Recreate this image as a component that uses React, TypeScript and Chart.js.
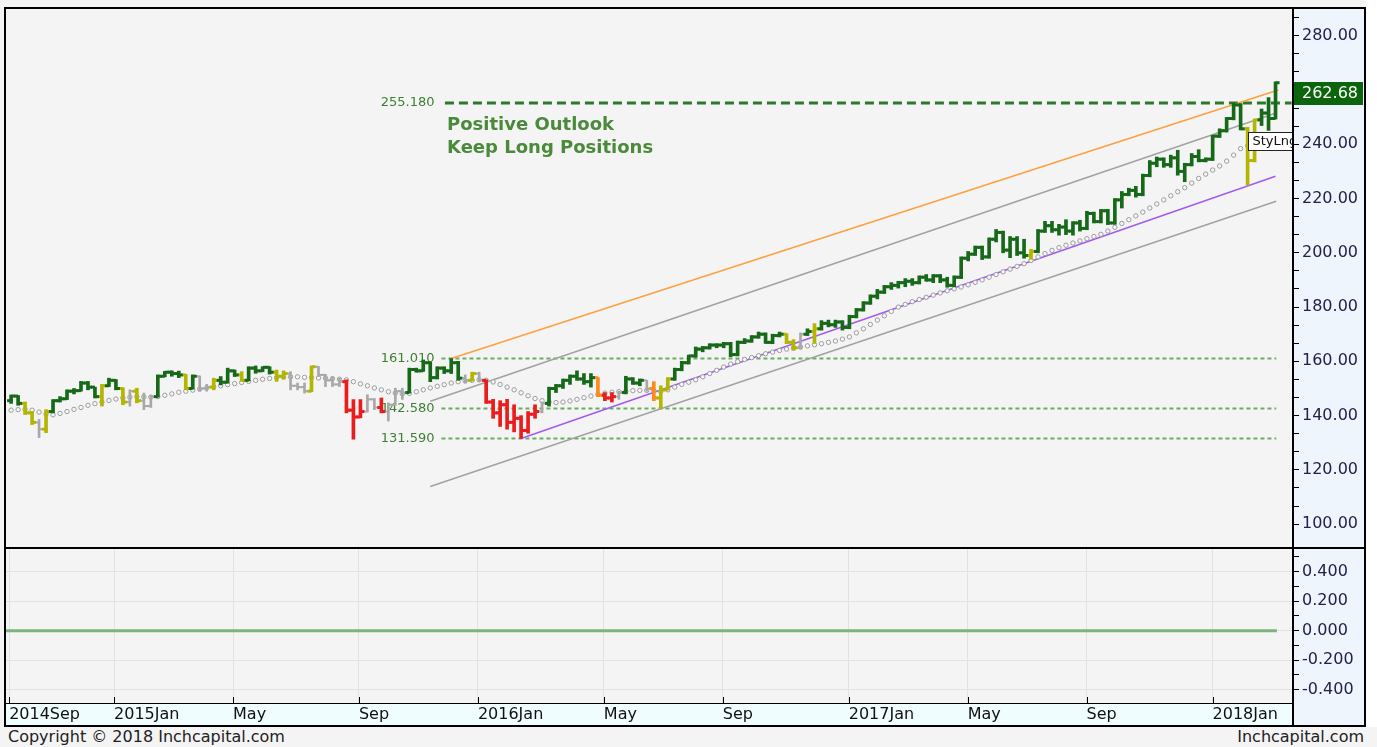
import React, { useEffect, useRef } from 'react';
import { Chart, registerables } from 'chart.js';

Chart.register(...registerables);

const FONT = 'DejaVu Sans';

// ---- weekly OHLC (week index 0 = week of 2014-09-15) ----
const weekOpen = [
  145.5, 147.2, 144.5, 141, 137.5, 135, 141.5, 145.5, 146.2, 149,
  149.2, 152, 150.5, 147, 151, 153, 150, 145, 149, 145.5,
  143.5, 147, 154.5, 156, 155.5, 155, 150, 154.5, 150, 150.5,
  153, 152.3, 156.5, 155, 153, 157.5, 156.5, 157.8, 156, 154.5,
  155.5, 151, 150.5, 149, 158, 155, 153, 151.5, 152.5, 142,
  139.5, 141.5, 146, 143, 141.5, 144, 149, 148.5, 157, 156.5,
  159.5, 154, 157.5, 156.5, 159.5, 153.8, 153, 155.5, 153, 145,
  141, 144, 137.5, 139, 134.5, 140.5, 141.5, 144.5, 150, 151,
  153, 154.5, 153.5, 152.5, 154, 147.5, 146.5, 147, 148.5, 153.5,
  152, 153, 150, 146.5, 149.5, 153.5, 157, 159.5, 162, 164.5,
  165, 166, 166, 166.5, 162.5, 167, 167.5, 169, 170, 167,
  169.5, 170, 167, 165, 170, 171, 172, 174, 173.5, 174.5,
  172.5, 176.5, 179, 181.5, 184, 185.5, 187.5, 188, 189, 189.5,
  189, 191, 190, 191.5, 190, 188, 191, 198, 199.5, 202,
  198.5, 205, 207.5, 201, 205, 200, 199, 200.5, 208, 210,
  208.5, 209.5, 208, 211, 209, 214.5, 211.5, 215.5, 211, 219.5,
  221.5, 223, 221.5, 228.5, 233, 234.5, 232.5, 235, 230, 232.5,
  235.5, 234, 234.5, 243, 245, 249.5, 254.5, 245.7, 234, 249,
  251.5, 249.5,
];
const weekHigh = [
  147.6, 147.4, 145, 141.5, 138.6, 142.2, 145.9, 147, 149.5, 150,
  152.6, 152.6, 150.5, 151.5, 153.8, 153.3, 150.3, 149.5, 150.1, 148.3,
  147.5, 155, 156.3, 156.5, 156.4, 155.2, 155, 154.6, 151.5, 153.8,
  154.4, 157.5, 156.8, 156.2, 158, 158.3, 158, 158, 156.8, 156.5,
  156.2, 152, 152, 158.3, 158.1, 155.2, 154.4, 153.8, 153.2, 145.9,
  145.9, 147.7, 146.3, 146.5, 144.7, 150.1, 150.1, 157.5, 157.5, 160.5,
  159.8, 158, 158, 161.01, 160, 155, 156, 156, 153.2, 146,
  145.5, 146, 144, 140, 141.5, 144, 145, 150.5, 151.5, 153.5,
  155, 156.5, 155.5, 155.5, 154, 148.5, 148.5, 149, 154.5, 154,
  153.5, 153, 152.5, 151, 154, 157.5, 160, 162.3, 165.3, 165.5,
  166.5, 166.5, 167, 167, 167.5, 168.4, 169.5, 170.8, 170.5, 170,
  170.8, 170.2, 168, 170.5, 172, 173.9, 175, 175.2, 175.2, 175,
  177, 179.5, 182, 184.5, 186.5, 188, 189, 189.5, 190.5, 190.5,
  191.5, 192, 192, 192, 191, 191.5, 198.5, 200.5, 202.5, 202.5,
  205.5, 208.6, 208, 206, 206, 205, 201.3, 208.6, 211.6, 211.6,
  210.5, 212.2, 211.5, 212, 215.3, 215, 216, 216, 220, 222.6,
  223.8, 224.5, 229, 234, 235.3, 235, 236, 237.8, 233, 236.6,
  238, 235, 243.3, 245.7, 249.9, 255.18, 255, 246.3, 249.3, 253,
  257.2, 263,
];
const weekLow = [
  144.5, 143.8, 140.4, 136.7, 131.9, 133.7, 141, 145, 145.9, 148,
  149, 149.5, 146.5, 143.5, 150.7, 149.5, 144, 143.5, 144.7, 142.2,
  143, 146.8, 154.3, 154.5, 154, 149.5, 149.8, 149, 149, 149.5,
  151.3, 152, 154.4, 152.6, 152.8, 155.6, 156.2, 155.3, 152.6, 153.5,
  149.5, 149.5, 148.3, 148.8, 154.4, 150.7, 150.7, 150.7, 141, 131.3,
  139.2, 141.3, 142.2, 141, 138, 143.8, 146, 148.3, 156, 156.3,
  152.5, 153.5, 155.5, 155.5, 153, 152, 152.8, 152.5, 144.5, 139,
  136, 135, 134, 131.59, 133.5, 139, 141, 143.5, 148.5, 150,
  151.5, 153, 151.5, 150.5, 147, 145.5, 145, 146, 148, 151.5,
  151, 149, 145.5, 142.58, 149.5, 153, 156.5, 159, 161.5, 163.5,
  164.5, 165, 165, 161.7, 162, 166.5, 167, 168.5, 166.6, 166.5,
  169, 166.5, 164.1, 164.5, 169.5, 166.6, 171.5, 172.7, 172.5, 171.5,
  172, 176, 178.5, 181, 183, 185, 186.5, 187, 187.5, 188,
  188.5, 189.5, 189, 189, 187.3, 187.5, 190.5, 197, 199, 197.5,
  198, 204, 200, 198.2, 199, 198, 197.6, 200, 207.5, 207.5,
  206.5, 206.7, 206.5, 208, 208.5, 211, 211, 210.4, 210.5, 216.5,
  221, 220.5, 221, 228, 231.7, 231.5, 231.5, 228.6, 226.2, 232,
  233.5, 233.5, 234, 242.5, 244.5, 249, 245.3, 225, 233.5, 246.9,
  245.1, 249.3,
];
const weekClose = [
  147.2, 144.5, 141, 137.5, 135, 141.5, 145.5, 146.2, 149, 149.2,
  152, 150.5, 147, 151, 153, 150, 145, 149, 145.5, 143.5,
  147, 154.5, 156, 155.5, 155, 150, 154.5, 150, 150.5, 153,
  152.3, 156.5, 155, 153, 157.5, 156.5, 157.8, 156, 154.5, 155.5,
  151, 150.5, 149, 158, 155, 153, 151.5, 152.5, 142, 139.5,
  141.5, 146, 143, 141.5, 144, 149, 148.5, 157, 156.5, 159.5,
  154, 157.5, 156.5, 159.5, 153.8, 153, 155.5, 153, 145, 141,
  144, 137.5, 139, 134.5, 140.5, 141.5, 144.5, 150, 151, 153,
  154.5, 153.5, 152.5, 154, 147.5, 146.5, 147, 148.5, 153.5, 152,
  153, 150, 146.5, 149.5, 153.5, 157, 159.5, 162, 164.5, 165,
  166, 166, 166.5, 162.5, 167, 167.5, 169, 170, 167, 169.5,
  170, 167, 165, 170, 171, 172, 174, 173.5, 174.5, 172.5,
  176.5, 179, 181.5, 184, 185.5, 187.5, 188, 189, 189.5, 189,
  191, 190, 191.5, 190, 188, 191, 198, 199.5, 202, 198.5,
  205, 207.5, 201, 205, 200, 199, 200.5, 208, 210, 208.5,
  209.5, 208, 211, 209, 214.5, 211.5, 215.5, 211, 219.5, 221.5,
  223, 221.5, 228.5, 233, 234.5, 232.5, 235, 230, 232.5, 235.5,
  234, 234.5, 243, 245, 249.5, 254.5, 245.7, 234, 249, 251.5,
  249.5, 262.68,
];
// g = strong up, y = weakening, n = neutral, r = down, o = recovering
const weekTone = (
  'ggyynygggg' + 'gggyggynyn' + 'nggggygnny' + 'gggyggggyy' + 'nnnynnnnrr' +
  'rnnrnnnggg' + 'gggggnynrr' + 'rrrrrrnggg' + 'ggggorrngg' + 'gnoyyggggg' +
  'gggggggggg' + 'gyyngygggg' + 'gggggggggg' + 'gggggggggg' + 'ggggggyggg' +
  'gggggggggg' + 'gggggggggg' + 'gggggggyyg' + 'gg'
).split('');

// trailing stop dots
const trailDots = [
  142, 142.2, 142.3, 142, 141.3, 140.6, 140.3, 140.8, 141.5, 142.3,
  143, 143.8, 144.4, 145, 145.6, 146.1, 146.5, 146.8, 147, 146.9,
  146.8, 147, 147.5, 148, 148.6, 149, 149.4, 149.8, 150.2, 150.6,
  151, 151.4, 151.8, 152.2, 152.6, 153, 153.4, 153.7, 154, 154.2,
  154.3, 154.3, 154.1, 154, 153.9, 153.8, 153.6, 153.4, 153.2, 152.5,
  151.7, 151, 150.2, 149.5, 148.8, 148.3, 148, 148.2, 148.8, 149.5,
  150.2, 150.8, 151.4, 152, 152.5, 152.8, 153, 153.2, 153, 152.4,
  151.5, 150.5, 149.5, 148.4, 147.3, 146.3, 145.5, 145, 144.8, 145,
  145.4, 146, 146.6, 147.2, 147.8, 148.3, 148.6, 148.8, 149, 149.2,
  149.3, 149.3, 149.2, 148.9, 149.5, 150.5, 151.5, 152.3, 153.2, 154.3,
  155.5, 156.7, 157.9, 159, 159.9, 160.7, 161.4, 162.1, 162.8, 163.4,
  164, 164.5, 164.9, 165.3, 165.7, 166.1, 166.5, 167, 167.5, 168.2,
  169, 170.5, 172, 173.6, 175.2, 176.8, 178.4, 180, 181, 182,
  182.8, 183.6, 184.4, 185.2, 186, 186.7, 187.4, 188.2, 189.1, 190,
  191, 192, 193, 194, 195, 196, 197.2, 198.5, 199.7, 200.9,
  201.9, 202.8, 203.6, 204.4, 205.2, 206, 206.8, 208, 209.4, 210.8,
  212.2, 213.6, 215, 216.5, 218, 219.5, 221, 222.5, 224, 225.7,
  227.4, 229, 230.5, 232, 233.8, 236, 238.4, 239.5, 240.2, 240.8,
  241.3, 241.8,
];

// x axis month ticks (week index) and labels
const monthTickWeeks = [0, 15, 32, 50, 67, 85, 102, 120, 137, 154, 172];
const monthTickLabels = ['2014Sep', '2015Jan', 'May', 'Sep', '2016Jan', 'May', 'Sep', '2017Jan', 'May', 'Sep', '2018Jan'];

// price axis ticks (minor every 20/3, labels every 20)
const priceTickValues = Array.from({ length: 29 }, (_, k) => 100 + (k * 20) / 3);
// oscillator axis ticks
const oscTickValues = [-0.4, -0.3, -0.2, -0.1, 0, 0.1, 0.2, 0.3, 0.4, 0.5];
const oscLabelValues = [-0.4, -0.2, 0, 0.2, 0.4];
const oscValueWeeks = [-0.59, 181.2];
const oscValues = [0, 0];

// horizontal levels
const levelValues = [255.18, 161.01, 142.58, 131.59];
const levelLabels = ['255.180', '161.010', '142.580', '131.590'];
const levelStartWeeks = [62.1, 61.6, 61.6, 61.6];
const levelEndWeeks = [183.3, 181.1, 181.1, 181.1];

// trend lines
const orangeWeeks = [63, 181.4];
const orangeValues = [161.01, 260.0];
const upperGreyWeeks = [60, 181.1];
const upperGreyValues = [145.3, 251.5];
const purpleWeeks = [73, 181];
const purpleValues = [131.59, 228.2];
const lowerGreyWeeks = [60, 181.1];
const lowerGreyValues = [113.9, 219.0];

const outlookLines = ['Positive Outlook', 'Keep Long Positions'];
const outlookValues = [246.8, 238.4];
const lastPrice = 262.68;
const stopTag = 'StyLng';

const X_MIN = -0.59;
const X_MAX = 183.5;

const TONE_COLOR: Record<string, string> = {
  g: '#17691a',
  y: '#b3b600',
  n: '#a8a8a8',
  r: '#ec1c1c',
  o: '#ff8a1c',
};

const pairs = (xs: number[], ys: number[]) => xs.map((x, k) => ({ x, y: ys[k] }));

const isMajorPrice = (v: number) => Math.abs(v / 20 - Math.round(v / 20)) < 1e-6;

const mainDecor = {
  id: 'mainDecor',
  beforeDatasetsDraw(chart: any) {
    const { ctx, scales } = chart;
    const x = scales.x;
    const y = scales.y;
    ctx.save();
    ctx.font = `13px "${FONT}"`;
    ctx.fillStyle = '#3f7f35';
    ctx.textAlign = 'right';
    ctx.textBaseline = 'middle';
    levelValues.forEach((v, k) => {
      ctx.fillText(levelLabels[k], x.getPixelForValue(60.6), y.getPixelForValue(v));
    });
    ctx.font = `bold 18px "${FONT}"`;
    ctx.fillStyle = '#4a8a3a';
    ctx.textAlign = 'left';
    outlookLines.forEach((t, k) => {
      ctx.fillText(t, x.getPixelForValue(62.4), y.getPixelForValue(outlookValues[k]));
    });
    ctx.restore();
  },
  afterDatasetsDraw(chart: any) {
    const { ctx, scales, chartArea } = chart;
    const x = scales.x;
    const y = scales.y;
    ctx.save();
    ctx.beginPath();
    ctx.rect(chartArea.left, chartArea.top, chartArea.right - chartArea.left, chartArea.bottom - chartArea.top);
    ctx.clip();
    const bx = Math.round(x.getPixelForValue(177)) + 0.5;
    const by = Math.round(y.getPixelForValue(244.4)) + 0.5;
    ctx.fillStyle = '#ffffff';
    ctx.fillRect(bx, by, 52, 18);
    ctx.strokeStyle = '#222';
    ctx.lineWidth = 1;
    ctx.strokeRect(bx, by, 52, 18);
    ctx.fillStyle = '#111';
    ctx.font = `13px "${FONT}"`;
    ctx.textAlign = 'left';
    ctx.textBaseline = 'middle';
    ctx.fillText(stopTag, bx + 4, by + 9.5);
    ctx.restore();
  },
  afterDraw(chart: any) {
    const { ctx, scales, chartArea } = chart;
    const y = scales.y;
    const top = Math.round(y.getPixelForValue(lastPrice)) - 1;
    ctx.save();
    ctx.fillStyle = '#0c640c';
    ctx.fillRect(chartArea.right + 1, top, 69, 23);
    ctx.fillStyle = '#ffffff';
    ctx.font = `16px "${FONT}"`;
    ctx.textAlign = 'left';
    ctx.textBaseline = 'middle';
    ctx.fillText(lastPrice.toFixed(2), chartArea.right + 9, top + 12);
    ctx.restore();
  },
};

const lowerDecor = {
  id: 'lowerDecor',
  afterDraw(chart: any) {
    const { ctx, scales, chartArea } = chart;
    const x = scales.x;
    ctx.save();
    ctx.strokeStyle = '#000';
    ctx.lineWidth = 1;
    monthTickWeeks.forEach((w) => {
      const px = Math.round(x.getPixelForValue(w)) + 0.5;
      ctx.beginPath();
      ctx.moveTo(px, chartArea.bottom - 6);
      ctx.lineTo(px, chartArea.bottom);
      ctx.stroke();
    });
    ctx.restore();
  },
};

function mainConfig(): any {
  const datasets: any[] = [];
  ['g', 'y', 'o', 'r', 'n'].forEach((t) => {
    const idx = weekTone.map((c, i) => (c === t ? i : -1)).filter((i) => i >= 0);
    const color = TONE_COLOR[t];
    const w = t === 'n' ? 2 : 3;
    datasets.push({
      type: 'bar',
      data: idx.map((i) => ({ x: i, y: [weekLow[i], weekHigh[i]] })),
      backgroundColor: color,
      borderWidth: 0,
      barThickness: w,
      grouped: false,
      order: 1,
    });
    datasets.push({
      type: 'scatter',
      data: idx.map((i) => ({ x: i - 0.29, y: weekOpen[i] })),
      pointStyle: 'line',
      pointRadius: 2,
      borderColor: color,
      borderWidth: w,
      order: 1,
    });
    datasets.push({
      type: 'scatter',
      data: idx.map((i) => ({ x: i + 0.29, y: weekClose[i] })),
      pointStyle: 'line',
      pointRadius: 2,
      borderColor: color,
      borderWidth: w,
      order: 1,
    });
  });
  datasets.push({
    type: 'scatter',
    data: trailDots.map((v, i) => ({ x: i, y: v })),
    pointStyle: 'circle',
    pointRadius: 2.2,
    borderColor: '#9c9c9c',
    backgroundColor: '#f6f6f6',
    borderWidth: 1,
    order: 3,
  });
  const trend = (xs: number[], ys: number[], color: string, width: number) => ({
    type: 'line',
    data: pairs(xs, ys),
    borderColor: color,
    borderWidth: width,
    pointRadius: 0,
    fill: false,
    order: 5,
  });
  datasets.push(trend(orangeWeeks, orangeValues, '#ffa040', 1.6));
  datasets.push(trend(upperGreyWeeks, upperGreyValues, '#a2a2a2', 1.5));
  datasets.push(trend(purpleWeeks, purpleValues, '#a35cf0', 1.6));
  datasets.push(trend(lowerGreyWeeks, lowerGreyValues, '#a2a2a2', 1.5));
  levelValues.forEach((v, k) => {
    datasets.push({
      type: 'line',
      data: [
        { x: levelStartWeeks[k], y: v },
        { x: levelEndWeeks[k], y: v },
      ],
      borderColor: k === 0 ? '#2b7a2b' : '#6aae60',
      borderWidth: k === 0 ? 3 : 2,
      borderDash: k === 0 ? [9, 5] : [4, 3],
      pointRadius: 0,
      fill: false,
      order: 6,
    });
  });

  return {
    type: 'bar',
    data: { datasets },
    options: {
      animation: false,
      responsive: false,
      events: [],
      layout: { padding: { left: 5, right: 12, top: 8, bottom: 2 } },
      plugins: { legend: { display: false }, tooltip: { enabled: false } },
      scales: {
        x: {
          type: 'linear',
          min: X_MIN,
          max: X_MAX,
          bounds: 'data',
          display: false,
          offset: false,
          grid: { offset: false },
        },
        y: {
          type: 'linear',
          position: 'right',
          min: 93.42,
          max: 290.22,
          bounds: 'data',
          afterBuildTicks: (s: any) => {
            s.ticks = priceTickValues.map((v) => ({ value: v }));
          },
          afterFit: (s: any) => {
            s.width = 72;
            s.paddingTop = 0;
            s.paddingBottom = 0;
          },
          ticks: {
            autoSkip: false,
            padding: 3,
            color: '#22224a',
            font: { size: 16, family: FONT },
            callback: (v: any) => (isMajorPrice(Number(v)) ? Number(v).toFixed(2) : ''),
          },
          grid: { drawOnChartArea: false, drawTicks: true, tickLength: 6, tickColor: '#000', tickWidth: 1 },
          border: { display: false },
        },
      },
    },
    plugins: [mainDecor],
  };
}

function lowerConfig(): any {
  return {
    type: 'line',
    data: {
      datasets: [
        {
          data: pairs(oscValueWeeks, oscValues),
          borderColor: '#7cb47c',
          borderWidth: 3,
          pointRadius: 0,
          fill: false,
        },
      ],
    },
    options: {
      animation: false,
      responsive: false,
      events: [],
      layout: { padding: { left: 5, right: 12, top: 9, bottom: 2 } },
      plugins: { legend: { display: false }, tooltip: { enabled: false } },
      scales: {
        x: {
          type: 'linear',
          min: X_MIN,
          max: X_MAX,
          bounds: 'data',
          offset: false,
          afterBuildTicks: (s: any) => {
            s.ticks = monthTickWeeks.map((v) => ({ value: v }));
          },
          afterFit: (s: any) => {
            s.height = 22;
            s.paddingLeft = 0;
            s.paddingRight = 0;
          },
          ticks: {
            autoSkip: false,
            maxRotation: 0,
            minRotation: 0,
            align: 'start',
            padding: 2,
            color: '#111',
            font: { size: 16, family: FONT },
            callback: (v: any) => {
              const k = monthTickWeeks.indexOf(Number(v));
              return k >= 0 ? monthTickLabels[k] : '';
            },
          },
          grid: { color: '#e2e2e2', drawTicks: false, lineWidth: 1 },
          border: { display: false },
        },
        y: {
          type: 'linear',
          position: 'right',
          min: -0.49,
          max: 0.554,
          bounds: 'data',
          afterBuildTicks: (s: any) => {
            s.ticks = oscTickValues.map((v) => ({ value: v }));
          },
          afterFit: (s: any) => {
            s.width = 72;
            s.paddingTop = 0;
            s.paddingBottom = 0;
          },
          ticks: {
            autoSkip: false,
            padding: 3,
            color: '#22224a',
            font: { size: 16, family: FONT },
            callback: (v: any) => {
              const n = Number(v);
              return oscLabelValues.some((l) => Math.abs(l - n) < 1e-9) ? (Math.abs(n) < 1e-9 ? 0 : n).toFixed(3) : '';
            },
          },
          grid: {
            drawOnChartArea: true,
            color: (c: any) => {
              const n = c.tick ? c.tick.value : NaN;
              return oscLabelValues.some((l) => Math.abs(l - n) < 1e-9) ? '#e2e2e2' : 'rgba(0,0,0,0)';
            },
            tickColor: '#000',
            tickLength: 6,
            drawTicks: true,
          },
          border: { display: false },
        },
      },
    },
    plugins: [lowerDecor],
  };
}

const box = (left: number, top: number, width: number, height: number, bg: string): React.CSSProperties => ({
  position: 'absolute',
  left,
  top,
  width,
  height,
  background: bg,
  pointerEvents: 'none',
});

export default function App() {
  const topRef = useRef<HTMLCanvasElement>(null);
  const botRef = useRef<HTMLCanvasElement>(null);

  useEffect(() => {
    const c1 = new Chart(topRef.current as HTMLCanvasElement, mainConfig());
    const c2 = new Chart(botRef.current as HTMLCanvasElement, lowerConfig());
    return () => {
      c1.destroy();
      c2.destroy();
    };
  }, []);

  return (
    <div
      style={{
        position: 'fixed',
        left: 0,
        top: 0,
        width: 1377,
        height: 747,
        background: '#f4f4f4',
        overflow: 'hidden',
        fontFamily: FONT,
      }}
    >
      <div style={box(1366, 0, 11, 727, '#ffffff')} />
      <div style={box(1294, 8, 70, 717, '#eef5fd')} />
      <div style={box(5, 704, 1288, 21, '#f0fdff')} />
      <canvas ref={topRef} width={1377} height={549} style={{ position: 'absolute', left: 0, top: 0 }} />
      <canvas ref={botRef} width={1377} height={187} style={{ position: 'absolute', left: 0, top: 540 }} />
      {/* panel frames */}
      <div style={box(4, 7, 1362, 2, '#000')} />
      <div style={box(4, 547, 1362, 2, '#000')} />
      <div style={box(4, 703, 1290, 1, '#000')} />
      <div style={box(4, 725, 1362, 2, '#000')} />
      <div style={box(4, 7, 2, 720, '#000')} />
      <div style={box(1292, 7, 2, 720, '#000')} />
      <div style={box(1364, 7, 2, 720, '#000')} />
      <div
        style={{
          position: 'absolute',
          left: 8,
          top: 728,
          fontSize: 16,
          lineHeight: '18px',
          color: '#222',
          whiteSpace: 'nowrap',
        }}
      >
        Copyright © 2018 Inchcapital.com
      </div>
      <div
        style={{
          position: 'absolute',
          right: 13,
          top: 728,
          fontSize: 16,
          lineHeight: '18px',
          color: '#222',
          whiteSpace: 'nowrap',
        }}
      >
        Inchcapital.com
      </div>
    </div>
  );
}
